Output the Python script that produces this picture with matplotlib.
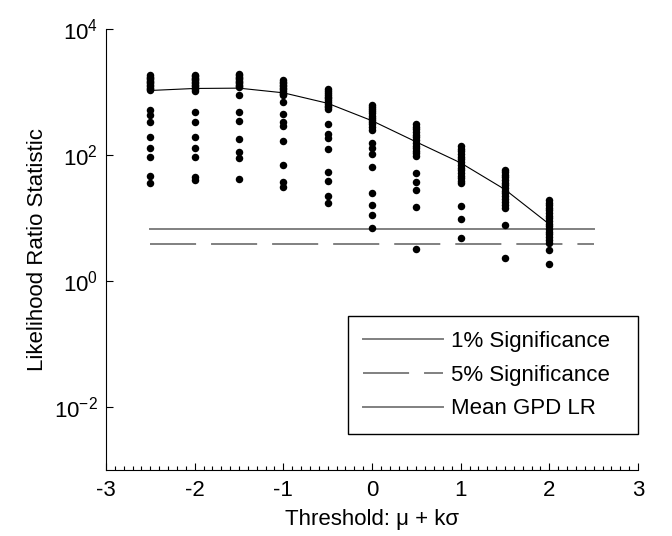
import matplotlib
matplotlib.use("Agg")
import matplotlib.pyplot as plt
from matplotlib.ticker import FixedLocator, MultipleLocator, NullLocator
from matplotlib.lines import Line2D

plt.rcParams['font.family'] = ['Liberation Sans', 'DejaVu Sans']
plt.rcParams['mathtext.default'] = 'regular'
plt.rcParams['font.size'] = 16

# Threshold levels k (threshold = mu + k*sigma)
k_levels = [-2.5, -2.0, -1.5, -1.0, -0.5, 0.0, 0.5, 1.0, 1.5, 2.0]

# Likelihood-ratio statistics per threshold level
lr_m25 = [1840, 1760, 1690, 1600, 1520, 1450, 1370, 1300, 1240, 1170, 1110, 1060,
          519, 431, 329, 194, 128, 93, 46, 36]
lr_m20 = [1850, 1770, 1680, 1610, 1530, 1440, 1380, 1310, 1230, 1160, 1100, 1055,
          475, 337, 194, 128, 93, 44, 40]
lr_m15 = [1940, 1850, 1760, 1680, 1600, 1520, 1440, 1370, 1300, 1250, 1200, 901,
          475, 350, 182, 113, 88, 41]
lr_m10 = [1530, 1450, 1380, 1300, 1240, 1170, 1100, 1040, 980, 930, 880, 687,
          448, 329, 284, 167, 69, 37, 31]
lr_m05 = [1120, 1040, 960, 900, 840, 790, 740, 690, 650, 610, 575, 545,
          310, 219, 185, 126, 53, 39, 22, 17]
lr_p00 = [630, 580, 540, 500, 460, 420, 390, 360, 330, 305, 280, 252,
          157, 128, 103, 64, 25, 16, 11, 6.9]
lr_p05 = [308, 280, 255, 232, 210, 190, 172, 156, 141, 128, 116, 106, 96,
          52, 37, 28, 14.7, 3.17]
lr_p10 = [139, 126, 114, 103, 94, 85, 77, 70, 63, 57, 52, 47, 43, 39, 36,
          15.3, 9.6, 4.9]
lr_p15 = [58.6, 53, 48, 44, 40, 36, 33, 30, 27, 24.5, 22, 20, 18, 16.2, 14.5,
          7.8, 2.33]
lr_p20 = [19.4, 17.6, 16, 14.5, 13.2, 12, 10.9, 9.9, 9.0, 8.1, 7.4, 6.7, 6.1,
          5.5, 5.0, 4.5, 4.0, 3.1, 1.89]

lr_columns = [lr_m25, lr_m20, lr_m15, lr_m10, lr_m05, lr_p00, lr_p05, lr_p10,
              lr_p15, lr_p20]

# Mean GPD likelihood ratio at each threshold level
mean_lr = [1057, 1138, 1151, 971, 662, 350, 161, 75, 28.3, 7.96]

# Chi-square(1) critical values
crit_x = [-2.5, 2.5]
crit_1pct = [6.63, 6.63]
crit_5pct = [3.84, 3.84]

legend_labels = ['1% Significance', '5% Significance', 'Mean GPD LR']

fig = plt.figure(figsize=(6.72, 5.36), dpi=100)
ax = fig.add_axes([106/672, 1-470/536, 532/672, 441/536])

for kv, col in zip(k_levels, lr_columns):
    ax.plot([kv]*len(col), col, 'o', color='black', markersize=5.4,
            markeredgewidth=0, zorder=3)

l1, = ax.plot(crit_x, crit_1pct, color='#808080', lw=1.4, zorder=2)
l5, = ax.plot(crit_x, crit_5pct, color='#808080', lw=1.4,
              linestyle=(0, (23.7, 7.7)), zorder=2)
lm, = ax.plot(k_levels, mean_lr, color='black', lw=0.8, zorder=4)

ax.set_yscale('log')
ax.set_xlim(-3, 3)
ax.set_ylim(1e-3, 1e4)

ax.xaxis.set_major_locator(FixedLocator([-3, -2, -1, 0, 1, 2, 3]))
ax.xaxis.set_minor_locator(MultipleLocator(0.1))
ax.set_xticklabels(['-3', '-2', '-1', '0', '1', '2', '3'])
ax.yaxis.set_major_locator(FixedLocator([1e-2, 1e0, 1e2, 1e4]))
ax.yaxis.set_minor_locator(NullLocator())
ax.set_yticklabels(['$10^{-2}$', '$10^{0}$', '$10^{2}$', '$10^{4}$'])

ax.tick_params(axis='both', which='both', direction='in', top=False, right=False)
ax.tick_params(axis='x', which='major', length=5, width=0.8, pad=7)
ax.tick_params(axis='x', which='minor', length=3, width=0.8)
ax.tick_params(axis='y', which='major', length=5, width=0.8, pad=6)

for s in ['top', 'right']:
    ax.spines[s].set_visible(False)
for s in ['left', 'bottom']:
    ax.spines[s].set_linewidth(0.8)

ax.set_xlabel('Threshold: \u03bc + k\u03c3', labelpad=6)
ax.set_ylabel('Likelihood Ratio Statistic', labelpad=4)

h_mean = Line2D([], [], color='#808080', lw=1.4)
leg = ax.legend([l1, l5, h_mean], legend_labels,
                loc='lower left', bbox_to_anchor=(0.455, 0.082, 0.545, 0.263),
                mode='expand', borderaxespad=0, fancybox=False, framealpha=1,
                edgecolor='black', handlelength=3.6, handletextpad=0.4,
                labelspacing=0.58, borderpad=0.65, fontsize=16)
leg.get_frame().set_linewidth(1.0)

fig.savefig('out.png', dpi=100)
